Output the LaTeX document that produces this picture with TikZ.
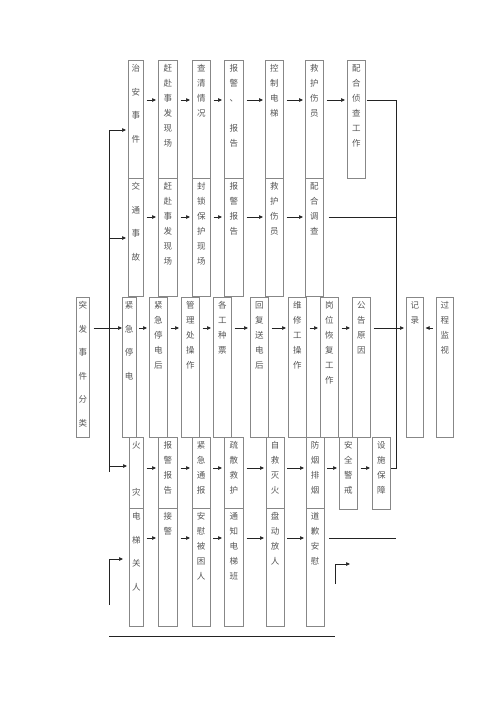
\documentclass[tikz,border=0pt]{standalone}
\usepackage{fontspec}
\newfontfamily\cjk{Noto Sans CJK SC}
\usetikzlibrary{arrows.meta}
\definecolor{boxgray}{RGB}{135,135,135}
\definecolor{txtgray}{RGB}{85,85,85}
\definecolor{linegray}{RGB}{35,35,35}

\begin{document}
\begin{tikzpicture}[x=1pt,y=-1pt,
  box/.style={draw=boxgray,line width=0.6pt,minimum width=18,minimum height=#1,inner sep=0,anchor=north west},
  txt/.style={anchor=north,yshift=-4.5pt,inner sep=0,align=center,text=txtgray,font=\cjk\fontsize{8.5pt}{15pt}\selectfont},
  txtw/.style={txt,font=\cjk\fontsize{8.5pt}{23.5pt}\selectfont},
  line/.style={draw=linegray,line width=0.7pt},
  arr/.style={line,-{Triangle[length=4pt,width=3.5pt]},shorten >=2pt},
  nxt/.style={arr,shorten <=3pt}]
\useasboundingbox (0,0) rectangle (500,707);

\coordinate (ya) at (0,100);
\coordinate (yb) at (0,217);
\coordinate (yc) at (0,328);
\coordinate (yd) at (0,468);
\coordinate (ye) at (0,538);

\node[box=118,minimum width=15,label={[txtw]north:治\\安\\事\\件}] (za1) at (128,60) {};
\node[box=118,minimum width=19,label={[txt]north:赶\\赴\\事\\发\\现\\场}] (za2) at (158,60) {};
\node[box=118,label={[txt]north:查\\清\\情\\况}] (za3) at (192,60) {};
\node[box=118,minimum width=19,label={[txt]north:报\\警\\、\\\mbox{}\\报\\告}] (za4) at (224,60) {};
\node[box=118,label={[txt]north:控\\制\\电\\梯}] (za5) at (265,60) {};
\node[box=118,label={[txt]north:救\\护\\伤\\员}] (za6) at (305,60) {};
\node[box=118,label={[txt]north:配\\合\\侦\\查\\工\\作}] (za7) at (347,60) {};

\node[box=118,minimum width=15,label={[txtw]north:交\\通\\事\\故}] (jt1) at (128,178) {};
\node[box=118,minimum width=19,label={[txt]north:赶\\赴\\事\\发\\现\\场}] (jt2) at (158,178) {};
\node[box=118,label={[txt]north:封\\锁\\保\\护\\现\\场}] (jt3) at (192,178) {};
\node[box=118,minimum width=19,label={[txt]north:报\\警\\报\\告}] (jt4) at (224,178) {};
\node[box=118,label={[txt]north:救\\护\\伤\\员}] (jt5) at (265,178) {};
\node[box=118,label={[txt]north:配\\合\\调\\查}] (jt6) at (305,178) {};

\node[box=140,minimum width=13,label={[txtw]north:突\\发\\事\\件\\分\\类}] (td0) at (76,297) {};
\node[box=140,minimum width=13.5,label={[txtw]north:紧\\急\\停\\电}] (td1) at (122,297) {};
\node[box=140,label={[txt]north:紧\\急\\停\\电\\后}] (td2) at (149,297) {};
\node[box=140,label={[txt]north:管\\理\\处\\操\\作}] (td3) at (181,297) {};
\node[box=140,label={[txt]north:各\\工\\种\\票}] (td4) at (213,297) {};
\node[box=140,label={[txt]north:回\\复\\送\\电\\后}] (td5) at (250,297) {};
\node[box=140,label={[txt]north:维\\修\\工\\操\\作}] (td6) at (288,297) {};
\node[box=140,label={[txt]north:岗\\位\\恢\\复\\工\\作}] (td7) at (320,297) {};
\node[box=140,label={[txt]north:公\\告\\原\\因}] (td8) at (352,297) {};
\node[box=140,minimum width=17,label={[txt]north:记\\录}] (td9) at (406,297) {};
\node[box=140,minimum width=17,label={[txt]north:过\\程\\监\\视}] (td10) at (436,297) {};

\node[box=71,minimum width=14,label={[txtw]north:火\\\mbox{}\\灾}] (hz1) at (129,437) {};
\node[box=71,minimum width=19,label={[txt]north:报\\警\\报\\告}] (hz2) at (158,437) {};
\node[box=71,minimum width=17.5,label={[txt]north:紧\\急\\通\\报}] (hz3) at (192,437) {};
\node[box=71,minimum width=19,label={[txt]north:疏\\散\\救\\护}] (hz4) at (224,437) {};
\node[box=71,minimum width=17.5,label={[txt]north:自\\救\\灭\\火}] (hz5) at (266,437) {};
\node[box=71,minimum width=17.5,label={[txt]north:防\\烟\\排\\烟}] (hz6) at (306,437) {};
\node[box=72,label={[txt]north:安\\全\\警\\戒}] (hz7) at (339,437) {};
\node[box=72,label={[txt]north:设\\施\\保\\障}] (hz8) at (372,437) {};

\node[box=118,minimum width=14,label={[txtw]north:电\\梯\\关\\人}] (dt1) at (129,508) {};
\node[box=118,minimum width=19,label={[txt]north:接\\警}] (dt2) at (158,508) {};
\node[box=118,minimum width=17.5,label={[txt]north:安\\慰\\被\\困\\人}] (dt3) at (192,508) {};
\node[box=118,minimum width=19,label={[txt]north:通\\知\\电\\梯\\班}] (dt4) at (224,508) {};
\node[box=118,minimum width=17.5,label={[txt]north:盘\\动\\放\\人}] (dt5) at (266,508) {};
\node[box=118,minimum width=17.5,label={[txt]north:道\\歉\\安\\慰}] (dt6) at (306,508) {};

\coordinate (tt) at (109,130);
\coordinate (tjt) at (109,238);
\coordinate (thz) at (109,466);
\coordinate (tb) at (109,472);
\draw[line] (tt) -- (tb);
\draw[arr] (tt) -- (za1.west|-tt);
\draw[arr] (tjt) -- (jt1.west|-tjt);
\draw[arr] (thz) -- (hz1.west|-thz);
\draw[arr,shorten <=4pt,shorten >=0pt] (td0.east|-yc) -- (td1.west|-yc);

\draw[nxt] (za1.east|-ya) -- (za2.west|-ya);
\draw[nxt] (za2.east|-ya) -- (za3.west|-ya);
\draw[nxt] (za3.east|-ya) -- (za4.west|-ya);
\draw[nxt] (za4.east|-ya) -- (za5.west|-ya);
\draw[nxt] (za5.east|-ya) -- (za6.west|-ya);
\draw[nxt] (za6.east|-ya) -- (za7.west|-ya);

\draw[nxt] (jt1.east|-yb) -- (jt2.west|-yb);
\draw[nxt] (jt2.east|-yb) -- (jt3.west|-yb);
\draw[nxt] (jt3.east|-yb) -- (jt4.west|-yb);
\draw[nxt] (jt4.east|-yb) -- (jt5.west|-yb);
\draw[nxt] (jt5.east|-yb) -- (jt6.west|-yb);

\draw[nxt] (td1.east|-yc) -- (td2.west|-yc);
\draw[nxt] (td2.east|-yc) -- (td3.west|-yc);
\draw[nxt] (td3.east|-yc) -- (td4.west|-yc);
\draw[nxt] (td4.east|-yc) -- (td5.west|-yc);
\draw[nxt] (td5.east|-yc) -- (td6.west|-yc);
\draw[nxt] (td6.east|-yc) -- (td7.west|-yc);
\draw[nxt] (td7.east|-yc) -- (td8.west|-yc);
\draw[nxt] (td8.east|-yc) -- (td9.west|-yc);
\draw[nxt] (td10.west|-yc) -- (td9.east|-yc);

\draw[nxt] (hz1.east|-yd) -- (hz2.west|-yd);
\draw[nxt] (hz2.east|-yd) -- (hz3.west|-yd);
\draw[nxt] (hz3.east|-yd) -- (hz4.west|-yd);
\draw[nxt] (hz4.east|-yd) -- (hz5.west|-yd);
\draw[nxt] (hz5.east|-yd) -- (hz6.west|-yd);
\draw[nxt] (hz6.east|-yd) -- (hz7.west|-yd);
\draw[nxt] (hz7.east|-yd) -- (hz8.west|-yd);

\draw[nxt] (dt1.east|-ye) -- (dt2.west|-ye);
\draw[nxt] (dt2.east|-ye) -- (dt3.west|-ye);
\draw[nxt] (dt3.east|-ye) -- (dt4.west|-ye);
\draw[nxt] (dt4.east|-ye) -- (dt5.west|-ye);
\draw[nxt] (dt5.east|-ye) -- (dt6.west|-ye);

\coordinate (rt) at (396,100);
\coordinate (rb) at (396,468);
\draw[line,shorten <=1pt] (za7.east|-rt) -- (rt) -- (rb) -- (hz8.east|-rb);
\draw[line,shorten <=5pt] (jt6.east|-yb) -- (rt|-yb);
\draw[line,shorten <=5pt] (dt6.east|-ye) -- (rt|-ye);

\coordinate (lb1) at (109,605);
\coordinate (lb2) at (109,559);
\draw[arr,shorten >=6pt] (lb1) -- (lb2) -- (dt1.west|-lb2);
\coordinate (rb1) at (335,584);
\coordinate (rb2) at (335,564);
\coordinate (rb3) at (352,564);
\draw[arr] (rb1) -- (rb2) -- (rb3);

\coordinate (bl) at (109,636);
\coordinate (br) at (335,636);
\draw[line] (bl) -- (br);
\end{tikzpicture}
\end{document}
